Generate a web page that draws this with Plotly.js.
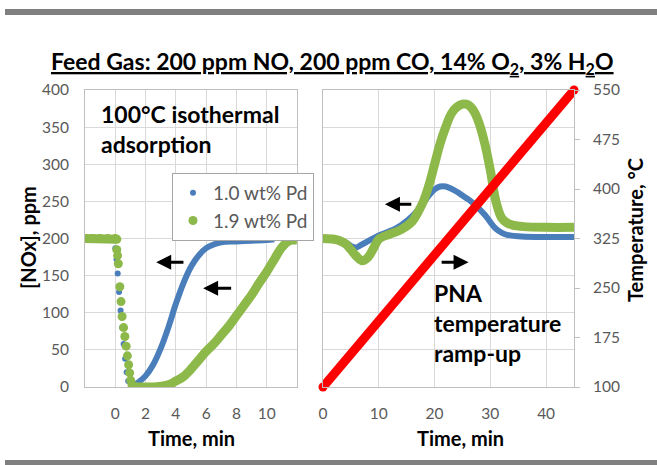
<!DOCTYPE html>
<html>
<head>
<meta charset="utf-8">
<script src="https://cdn.plot.ly/plotly-3.0.1.min.js"></script>
<style>
  html, body { margin: 0; padding: 0; background: #ffffff; }
  #chart { width: 657px; height: 465px; }
</style>
</head>
<body>
<div id="chart"></div>
<script>
// ---- 100 °C isothermal adsorption (left panel) ----
// 1.0 wt% Pd: breakthrough drop (sparse points) and recovery (dense trace)
const isoDropTimeA = [0, 0.08, 0.16, 0.25, 0.35, 0.45, 0.55, 0.65, 0.75, 0.85];
const isoDropNoxA  = [187, 172, 153, 128, 103, 80, 58, 38, 20, 8];
const isoRiseTimeA = [0.9, 1.2, 1.5, 2, 2.5, 3, 3.5, 4, 4.5, 5, 5.5, 6, 6.5, 7, 8, 9, 10, 10.5];
const isoRiseNoxA  = [0, 2, 6, 15, 30, 52, 80, 112, 140, 162, 177, 187, 192, 195, 196, 197, 198, 199];

// 1.9 wt% Pd: feed plateau, drop and slower recovery
const isoFeedTimeB = [-2, -1.5, -1, -0.5, 0, 0.1];
const isoFeedNoxB  = [200, 200, 200, 200, 200, 199];
const isoDropTimeB = [0.1, 0.15, 0.2, 0.3, 0.38, 0.45, 0.55, 0.63, 0.72, 0.8, 0.88, 0.95, 1.02, 1.1];
const isoDropNoxB  = [185, 177, 166, 135, 115, 95, 80, 68, 55, 42, 30, 19, 9, 3];
const isoRiseTimeB = [1.0, 1.5, 2, 2.5, 3, 3.5, 4, 4.5, 5, 5.5, 6, 6.5, 7, 7.5, 8, 8.5, 9, 9.5, 10, 10.5, 11, 11.5, 12];
const isoRiseNoxB  = [2, 0, 0, 0, 1, 3, 8, 14, 24, 36, 48, 58, 70, 82, 96, 110, 124, 140, 155, 172, 188, 197, 198];

// ---- Temperature-programmed desorption (right panel) ----
const tpdTimeA = [0, 2, 4, 5, 6, 7, 8, 10, 12, 14, 16, 18, 19, 20, 21, 22, 23, 24, 25, 26, 27, 28, 29, 30, 31, 32, 33, 35, 38, 41, 45];
const tpdNoxA  = [200, 199, 195, 190, 188, 192, 196, 204, 210, 218, 230, 248, 258, 266, 270, 270, 267, 263, 258, 253, 247, 240, 232, 222, 213, 208, 205, 203, 202, 202, 202];
const tpdTimeB = [0, 2, 3, 4, 5, 6, 7, 8, 9, 10, 12, 14, 16, 17, 18, 19, 20, 21, 22, 23, 24, 25, 26, 27, 28, 29, 30, 31, 32, 33, 34, 36, 40, 45];
const tpdNoxB  = [200, 199, 197, 193, 185, 176, 170, 174, 186, 199, 206, 212, 223, 235, 250, 272, 300, 328, 350, 368, 377, 381, 380, 372, 355, 328, 292, 250, 228, 221, 218, 216, 215, 215];
const rampTime = [0, 45];
const rampTemp = [100, 550];

// tick labels
const isoTicks  = [0, 2, 4, 6, 8, 10];
const tpdTicks  = [0, 10, 20, 30, 40];
const noxTicks  = [0, 50, 100, 150, 200, 250, 300, 350, 400];
const tempTicks = [100, 175, 250, 325, 400, 475, 550];

const seriesNames = ['1.0 wt% Pd', '1.9 wt% Pd'];

const BLUE = '#4a7ebb';
const GREEN = '#8db84a';
const RED = '#ff0000';
const GREY_TXT = '#595959';
const GRID = '#d9d9d9';
const FRAME = '#bfbfbf';
const FONT = 'Lato, "Open Sans", sans-serif';

const traces = [
  // left panel, 1.0 wt% Pd
  { x: isoDropTimeA, y: isoDropNoxA, xaxis: 'x', yaxis: 'y', mode: 'markers', name: seriesNames[0],
    marker: { color: BLUE, size: 6 }, legendrank: 1 },
  { x: isoRiseTimeA, y: isoRiseNoxA, xaxis: 'x', yaxis: 'y', mode: 'lines', showlegend: false,
    line: { color: BLUE, width: 6, shape: 'spline' } },
  // left panel, 1.9 wt% Pd
  { x: isoFeedTimeB, y: isoFeedNoxB, xaxis: 'x', yaxis: 'y', mode: 'lines+markers', showlegend: false,
    line: { color: GREEN, width: 9 }, marker: { color: GREEN, size: 9 } },
  { x: isoDropTimeB, y: isoDropNoxB, xaxis: 'x', yaxis: 'y', mode: 'markers', name: seriesNames[1],
    marker: { color: GREEN, size: 9 }, legendrank: 2 },
  { x: isoRiseTimeB, y: isoRiseNoxB, xaxis: 'x', yaxis: 'y', mode: 'lines', showlegend: false,
    line: { color: GREEN, width: 9, shape: 'spline' } },
  // right panel
  { x: tpdTimeA, y: tpdNoxA, xaxis: 'x2', yaxis: 'y2', mode: 'lines', showlegend: false,
    line: { color: BLUE, width: 6, shape: 'spline' } },
  { x: tpdTimeB, y: tpdNoxB, xaxis: 'x2', yaxis: 'y2', mode: 'lines', showlegend: false,
    line: { color: GREEN, width: 9, shape: 'spline' } },
  { x: rampTime, y: rampTemp, xaxis: 'x2', yaxis: 'y3', mode: 'lines+markers', showlegend: false,
    cliponaxis: false, line: { color: RED, width: 9 }, marker: { color: RED, size: 9 } }
];

const tickFont = { family: FONT, size: 15.5, color: GREY_TXT };
const titleFont = { family: FONT, size: 20, color: '#000000', weight: 'bold' };
const noteFont = { family: FONT, size: 23, color: '#000000', weight: 'bold' };

const baseX = {
  showgrid: true, gridcolor: GRID, gridwidth: 1, zeroline: false,
  showline: true, linecolor: FRAME, linewidth: 1, mirror: true,
  ticks: '', tickfont: tickFont, ticklabelstandoff: 12, fixedrange: true
};

// pixel helpers for paper placement (plot area spans x 85..574, y 90..387)
const px = v => (v - 85) / 489;
const py = v => (387 - v) / 297;

function arrow(xr, yr, xHead, xTail, yVal) {
  return { xref: xr, yref: yr, axref: xr, ayref: yr, x: xHead, y: yVal, ax: xTail, ay: yVal,
           text: '', showarrow: true, arrowhead: 2, arrowsize: 1, arrowwidth: 3, arrowcolor: '#000000' };
}

const layout = {
  width: 657, height: 465,
  margin: { l: 85, r: 83, t: 90, b: 78 },
  paper_bgcolor: '#ffffff', plot_bgcolor: '#ffffff',
  font: { family: FONT, color: GREY_TXT },
  showlegend: true,
  legend: {
    x: px(172), y: py(173), xanchor: 'left', yanchor: 'top',
    bgcolor: '#ffffff', bordercolor: '#a6a6a6', borderwidth: 1,
    font: { family: FONT, size: 19, color: GREY_TXT },
    tracegroupgap: 0, itemwidth: 30
  },
  xaxis: Object.assign({}, baseX, { domain: [0, px(297)], range: [-2, 12], tickvals: isoTicks, anchor: 'y' }),
  xaxis2: Object.assign({}, baseX, { domain: [px(323), 1], range: [0, 45], tickvals: tpdTicks, anchor: 'y2' }),
  yaxis: {
    domain: [0, 1], range: [0, 400], tickvals: noxTicks, anchor: 'x',
    showgrid: true, gridcolor: GRID, zeroline: false,
    showline: true, linecolor: FRAME, mirror: true,
    ticks: '', tickfont: tickFont, ticklabelstandoff: 12, fixedrange: true
  },
  yaxis2: {
    domain: [0, 1], range: [0, 400], tickvals: noxTicks, anchor: 'x2',
    showgrid: true, gridcolor: GRID, zeroline: false,
    showline: true, linecolor: FRAME, mirror: true,
    showticklabels: false, ticks: '', fixedrange: true
  },
  yaxis3: {
    overlaying: 'y2', side: 'right', anchor: 'x2', range: [100, 550], tickvals: tempTicks,
    showgrid: false, zeroline: false, showline: false,
    ticks: 'outside', ticklen: 5, tickcolor: FRAME,
    tickfont: tickFont, ticklabelstandoff: 10, fixedrange: true
  },
  shapes: [
    { type: 'rect', xref: 'paper', yref: 'paper', x0: px(5), x1: px(657), y0: py(15), y1: py(9),
      fillcolor: '#808080', line: { width: 0 } },
    { type: 'rect', xref: 'paper', yref: 'paper', x0: px(5), x1: px(657), y0: py(465), y1: py(460),
      fillcolor: '#808080', line: { width: 0 } }
  ],
  annotations: [
    { xref: 'paper', yref: 'paper', x: px(332), y: py(62), xanchor: 'center', yanchor: 'middle',
      showarrow: false, font: { family: FONT, size: 23, color: '#000000', weight: 'bold' },
      text: '<u>Feed Gas: 200 ppm NO, 200 ppm CO, 14% O<sub>2</sub>, 3% H<sub>2</sub>O</u>' },
    { xref: 'paper', yref: 'paper', x: px(191), y: py(438), xanchor: 'center', yanchor: 'middle',
      showarrow: false, font: titleFont, text: 'Time, min' },
    { xref: 'paper', yref: 'paper', x: px(460), y: py(438), xanchor: 'center', yanchor: 'middle',
      showarrow: false, font: titleFont, text: 'Time, min' },
    { xref: 'paper', yref: 'paper', x: px(28), y: py(238), xanchor: 'center', yanchor: 'middle',
      textangle: -90, showarrow: false, font: titleFont, text: '[NOx], ppm' },
    { xref: 'paper', yref: 'paper', x: px(635), y: py(230), xanchor: 'center', yanchor: 'middle',
      textangle: -90, showarrow: false, font: titleFont, text: 'Temperature, °C' },
    { xref: 'paper', yref: 'paper', x: px(99), y: py(129), xanchor: 'left', yanchor: 'middle', align: 'left',
      showarrow: false, font: noteFont, text: '100°C isothermal<br>adsorption' },
    { xref: 'paper', yref: 'paper', x: px(432), y: py(323), xanchor: 'left', yanchor: 'middle', align: 'left',
      showarrow: false, font: noteFont, text: 'PNA<br>temperature<br>ramp-up' },
    arrow('x', 'y', 2.7, 4.6, 168),
    arrow('x', 'y', 5.8, 7.75, 133),
    arrow('x2', 'y2', 11.1, 16.1, 246),
    arrow('x2', 'y2', 26.1, 21.0, 168)
  ]
};

Plotly.newPlot('chart', traces, layout, { displayModeBar: false, staticPlot: true });
</script>
</body>
</html>
